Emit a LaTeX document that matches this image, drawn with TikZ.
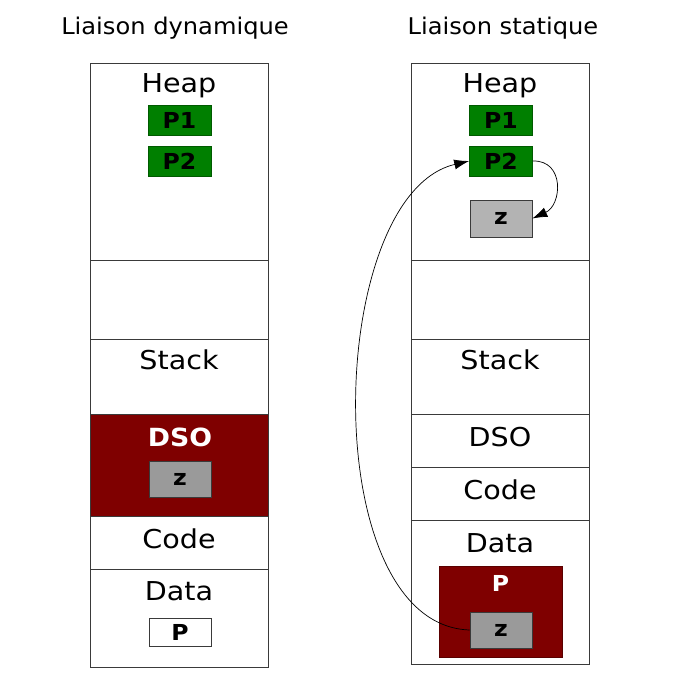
\documentclass[tikz,border=0pt]{standalone}
\usepackage{fontspec}
\setmainfont{DejaVu Sans}
\newfontfamily\labfont{DejaVu Sans}[FakeStretch=1.1]
\newfontfamily\titfont{DejaVu Sans}[FakeStretch=1.05]
\newfontfamily\boldfont{DejaVu Sans Bold}[FakeStretch=1.07]
\usetikzlibrary{arrows.meta}
\definecolor{pgreen}{HTML}{007F00}
\definecolor{pgreenb}{HTML}{005A00}
\definecolor{dred}{HTML}{7F0000}
\definecolor{dredb}{HTML}{5A0000}
\definecolor{zgray}{HTML}{9A9A9A}
\definecolor{zlight}{HTML}{B3B3B3}
\definecolor{edge}{HTML}{3A3A3A}
\begin{document}
\begin{tikzpicture}[x=1pt,y=-1pt,
  sec/.style={draw=edge,line width=0.9pt,fill=white},
  title/.style={font=\titfont\fontsize{23}{27}\selectfont},
  lab/.style={font=\labfont\fontsize{26}{30}\selectfont},
  wlab/.style={font=\boldfont\fontsize{25}{30}\selectfont,text=white},
  gbox/.style={draw=pgreenb,fill=pgreen,line width=0.6pt,minimum width=63pt,minimum height=30pt,inner sep=0pt,font=\boldfont\fontsize{22}{24}\selectfont},
  zbox/.style={draw=edge,line width=0.6pt,minimum width=62pt,minimum height=36pt,inner sep=0pt,font=\boldfont\fontsize{22}{24}\selectfont},
  arr/.style={line width=0.7pt,-{Latex[length=15pt,width=10pt]}}
]
\useasboundingbox (0,0) rectangle (674,697);
% titles
\node[title] (t1) at (175,28) {Liaison dynamique};
\node[title] (t2) at (503,28) {Liaison statique};
% left column
\draw[sec] (90,63) rectangle (268,260);
\draw[sec] (90,260) rectangle (268,339);
\draw[sec] (90,339) rectangle (268,414);
\draw[draw=edge,line width=0.9pt,fill=dred] (90,414) rectangle (268,516);
\draw[sec] (90,516) rectangle (268,569);
\draw[sec] (90,569) rectangle (268,667);
\node[lab] (lheap) at (179,86) {Heap};
\node[gbox] (lp1) at (179.5,120) {P1};
\node[gbox] (lp2) at (179.5,161) {P2};
\node[lab] (lstack) at (179,360) {Stack};
\node[wlab] (ldso) at (180,437) {DSO};
\node[zbox,fill=zgray] (lz) at (180,479) {z};
\node[lab] (lcode) at (179,539) {Code};
\node[lab] (ldata) at (179,591) {Data};
\node[zbox,fill=white,minimum height=28pt] (lpv) at (180,632) {P};
% right column
\draw[sec] (411,63) rectangle (589,260);
\draw[sec] (411,260) rectangle (589,339);
\draw[sec] (411,339) rectangle (589,414);
\draw[sec] (411,414) rectangle (589,467);
\draw[sec] (411,467) rectangle (589,520);
\draw[sec] (411,520) rectangle (589,664);
\node[lab] (rheap) at (500,86) {Heap};
\node[gbox] (rp1) at (501,120) {P1};
\node[gbox] (rp2) at (501,161) {P2};
\node[zbox,fill=zlight,minimum height=37pt] (rzh) at (501,218.5) {z};
\node[lab] (rstack) at (500,360) {Stack};
\node[lab] (rdso) at (500,437) {DSO};
\node[lab] (rcode) at (500,490) {Code};
\node[lab] (rdata) at (500,543) {Data};
\node[draw=dredb,fill=dred,line width=0.6pt,minimum width=123pt,minimum height=91pt,inner sep=0pt] (rp) at (500.5,611.5) {};
\node[wlab,font=\boldfont\fontsize{22}{24}\selectfont] (rplab) at (500.5,583) {P};
\node[zbox,fill=zgray] (rzd) at (501,630) {z};
% arrows
\draw[arr] (rzd.west) .. controls (315,625) and (325,195) .. (rp2.west);
\draw[arr] (rp2.east) .. controls (565,160) and (562,205) .. (rzh.east);
\end{tikzpicture}
\end{document}
